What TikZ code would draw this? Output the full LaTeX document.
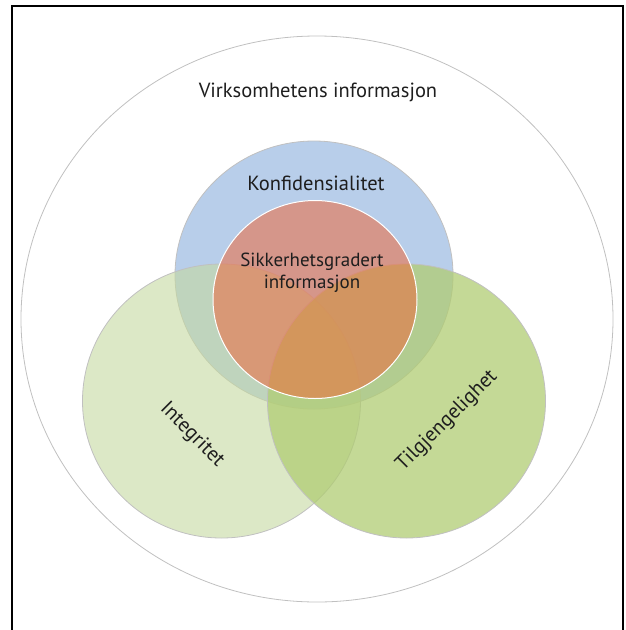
\documentclass[tikz,border=0pt]{standalone}
\usepackage{fontspec}
\setmainfont{PT Sans}
\definecolor{ringgray}{RGB}{192,192,192}
\definecolor{labeltext}{RGB}{30,30,30}
\definecolor{konfblue}{RGB}{184,206,234}
\definecolor{integgreen}{RGB}{197,217,160}
\definecolor{tilggreen}{RGB}{176,204,115}
\definecolor{gradred}{RGB}{238,104,60}
\begin{document}
\begin{tikzpicture}[x=1pt,y=-1pt,
  ring/.style={draw=ringgray, line width=0.8pt},
  lbl/.style={text=labeltext, inner sep=0pt, font=\fontsize{20.5}{24}\selectfont},
]
\useasboundingbox (0,0) rectangle (625,630);
% frame, open at the bottom
\draw[line width=2pt] (12,640) -- (12,6) -- (623,6) -- (623,640);

% outer set
\draw[ring] (317,319) ellipse [x radius=296pt, y radius=283pt];

% the three properties
\fill[konfblue] (314,275) ellipse [x radius=139pt, y radius=134pt];
\draw[ring] (314,275) ellipse [x radius=139pt, y radius=134pt];
\fill[integgreen, fill opacity=0.6] (221.5,401) ellipse [x radius=139pt, y radius=137pt];
\draw[ring] (221.5,401) ellipse [x radius=139pt, y radius=137pt];
\fill[tilggreen, fill opacity=0.75] (406.5,401) ellipse [x radius=139pt, y radius=137pt];
\draw[ring] (406.5,401) ellipse [x radius=139pt, y radius=137pt];

% classified information
\fill[gradred, fill opacity=0.55] (315,299.5) ellipse [x radius=102pt, y radius=99pt];
\draw[white, line width=1pt] (315,299.5) ellipse [x radius=102pt, y radius=99pt];

% labels
\node[lbl, anchor=base] (virk) at (318,97) {Virksomhetens informasjon};
\node[lbl, anchor=base] (konf) at (316,190) {Konfidensialitet};
\node[lbl, anchor=base, align=center, font=\fontsize{19}{22}\selectfont] (grad) at (312,288) {Sikkerhetsgradert\\informasjon};
\node[lbl, rotate=-45] (integ) at (192,435) {Integritet};
\node[lbl, rotate=45] (tilg) at (447,421) {Tilgjengelighet};
\end{tikzpicture}
\end{document}
